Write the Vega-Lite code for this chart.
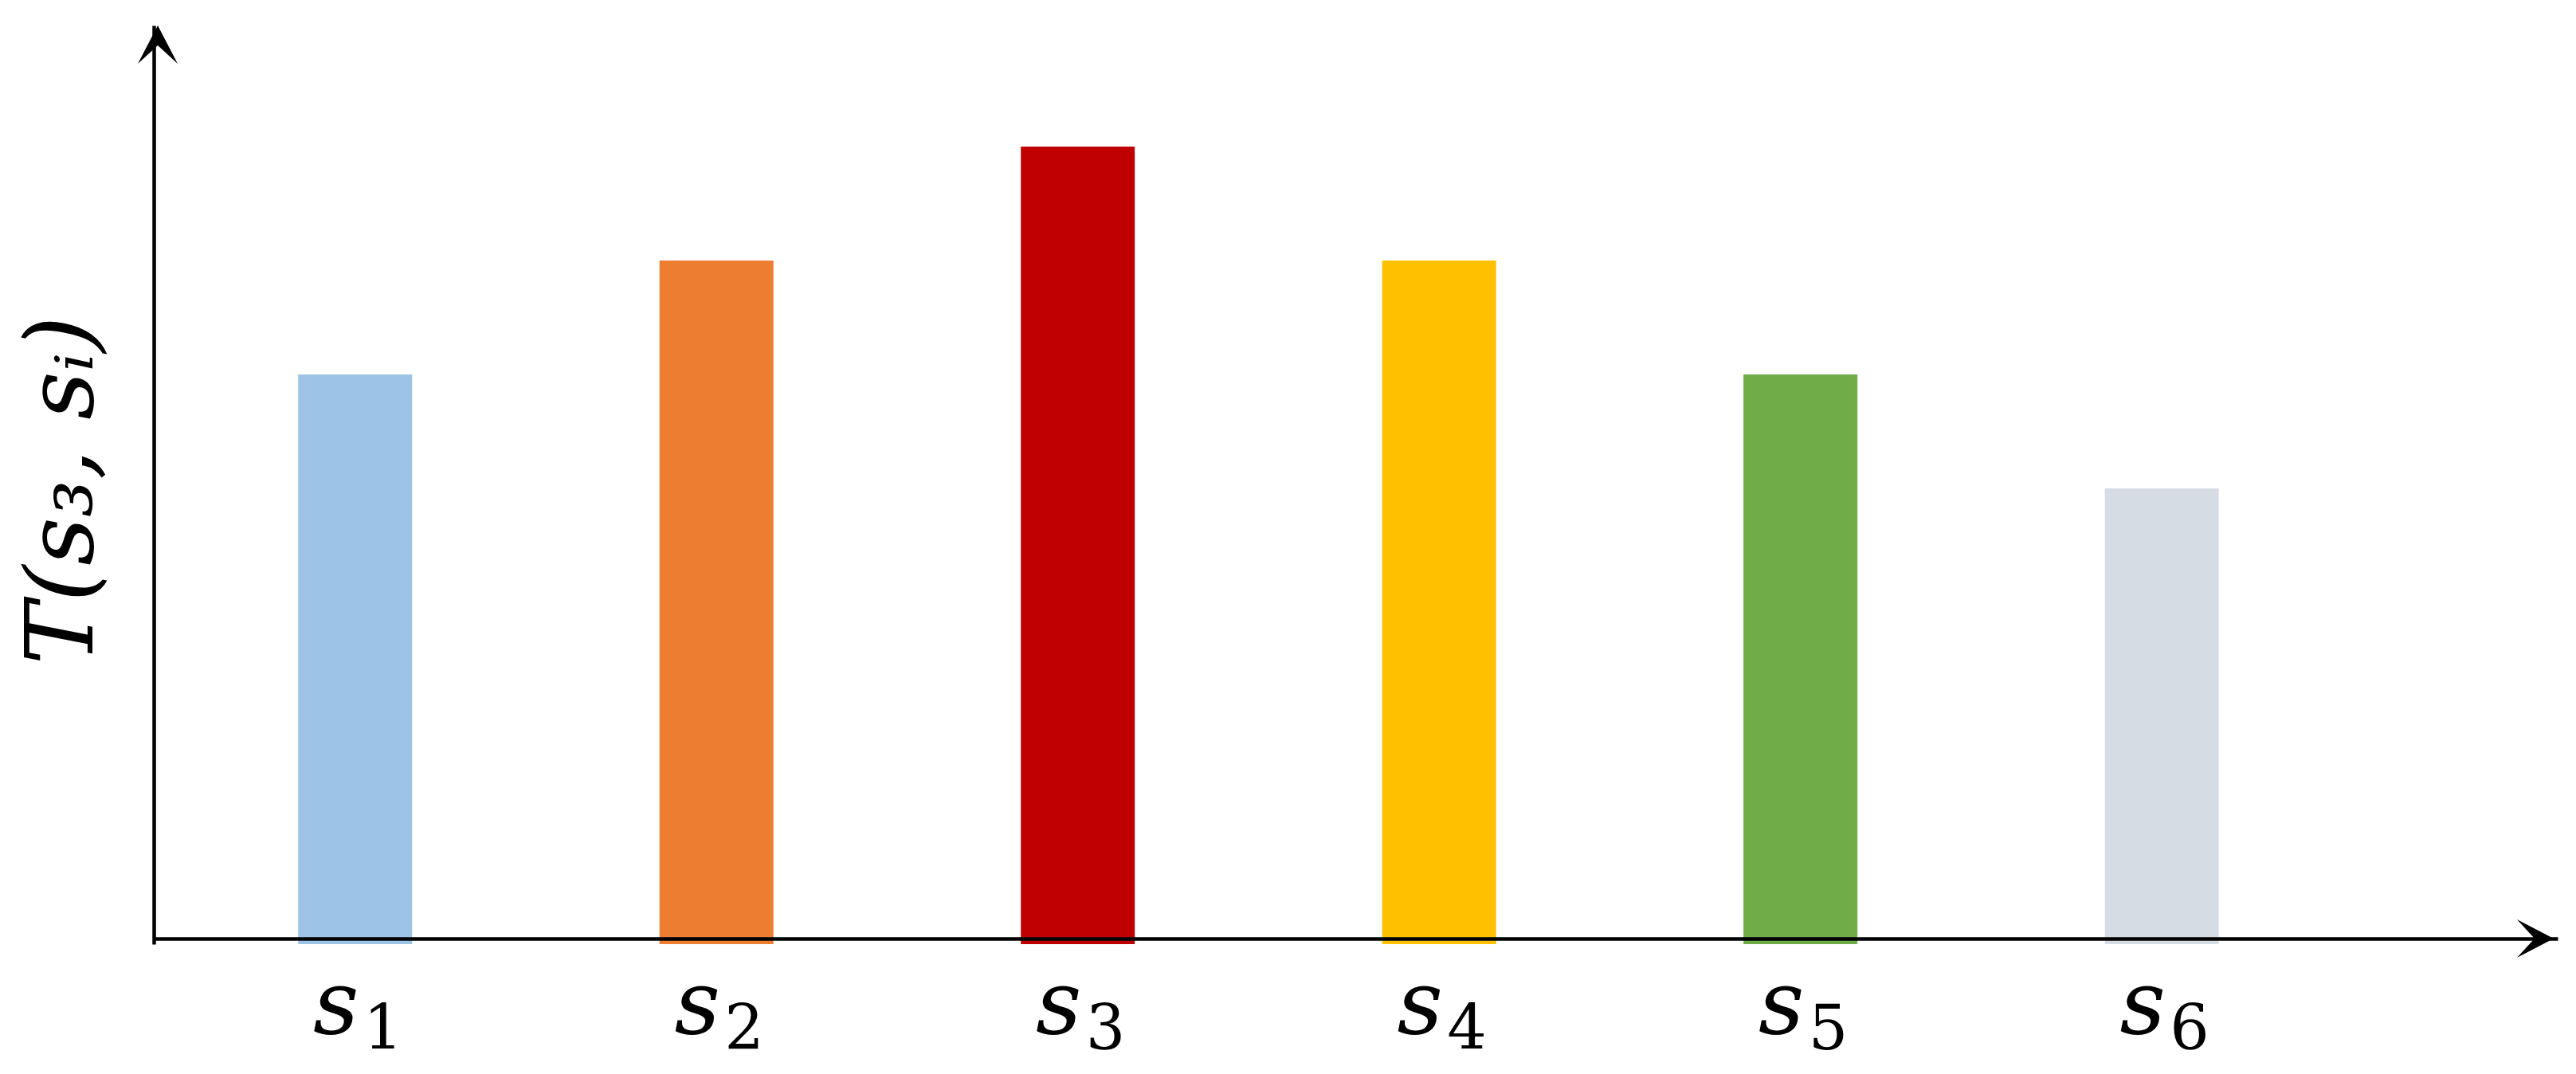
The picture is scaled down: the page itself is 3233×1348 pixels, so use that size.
{
  "$schema": "https://vega.github.io/schema/vega-lite/v6.json",
  "autosize": "none",
  "width": 3017,
  "height": 1153,
  "padding": {"left": 193, "top": 32, "right": 23, "bottom": 163},
  "background": "white",
  "config": {"view": {"stroke": null}},
  "datasets": {
    "bars": [
      {"node": "s1", "sub": "1", "pos": 1, "value": 5},
      {"node": "s2", "sub": "2", "pos": 2, "value": 6},
      {"node": "s3", "sub": "3", "pos": 3, "value": 7},
      {"node": "s4", "sub": "4", "pos": 4, "value": 6},
      {"node": "s5", "sub": "5", "pos": 5, "value": 5},
      {"node": "s6", "sub": "6", "pos": 6, "value": 4}
    ],
    "arrows": [
      {"axis": "y", "ax": 0.4538, "ay": 8.063},
      {"axis": "x", "ax": 7.0846, "ay": 0.049}
    ]
  },
  "layer": [
    {
      "data": {"name": "bars"},
      "mark": {"type": "bar", "size": 143},
      "encoding": {
        "x": {
          "field": "pos", "type": "quantitative",
          "scale": {"domain": [0.4538, 7.0846], "nice": false, "zero": false},
          "axis": {"title": null, "labels": false, "ticks": false, "grid": false, "domain": true, "domainColor": "#000000", "domainWidth": 4.5, "offset": -7, "zindex": 1}
        },
        "y": {
          "field": "value", "type": "quantitative",
          "scale": {"domain": [0, 8.063], "nice": false},
          "axis": {
            "title": "T(s₃, sᵢ)",
            "titleFont": "DejaVu Serif", "titleFontStyle": "italic", "titleFontWeight": "normal",
            "titleFontSize": 118, "titleColor": "#000000",
            "titleAngle": 270, "titleX": -78, "titleY": 583,
            "titleAlign": "center", "titleBaseline": "alphabetic",
            "labels": false, "ticks": false, "grid": false,
            "domain": true, "domainColor": "#000000", "domainWidth": 4.5, "zindex": 1
          }
        },
        "color": {
          "field": "node", "type": "nominal",
          "scale": {"domain": ["s1", "s2", "s3", "s4", "s5", "s6"], "range": ["#9DC3E6", "#ED7D31", "#C00000", "#FFC000", "#70AD47", "#D6DCE4"]},
          "legend": null
        }
      }
    },
    {
      "data": {"name": "bars"},
      "mark": {"type": "text", "font": "DejaVu Serif", "fontStyle": "italic", "fontSize": 112, "align": "center", "baseline": "alphabetic", "dx": -24, "dy": 112, "color": "#000000"},
      "encoding": {
        "x": {"field": "pos", "type": "quantitative"},
        "y": {"datum": 0},
        "text": {"value": "s"}
      }
    },
    {
      "data": {"name": "bars"},
      "mark": {"type": "text", "font": "DejaVu Serif", "fontSize": 78, "align": "center", "baseline": "alphabetic", "dx": 35, "dy": 132, "color": "#000000"},
      "encoding": {
        "x": {"field": "pos", "type": "quantitative"},
        "y": {"datum": 0},
        "text": {"field": "sub"}
      }
    },
    {
      "data": {"name": "arrows"},
      "transform": [{"filter": "datum.axis === 'y'"}],
      "mark": {"type": "point", "shape": "M0,0L1,1.92L0,1.0L-1,1.92Z", "size": 2500, "filled": true, "color": "#000000", "opacity": 1},
      "encoding": {
        "x": {"field": "ax", "type": "quantitative"},
        "y": {"field": "ay", "type": "quantitative"}
      }
    },
    {
      "data": {"name": "arrows"},
      "transform": [{"filter": "datum.axis === 'x'"}],
      "mark": {"type": "point", "shape": "M0,0L-1.92,-1L-1.0,0L-1.92,1Z", "size": 2304, "filled": true, "color": "#000000", "opacity": 1},
      "encoding": {
        "x": {"field": "ax", "type": "quantitative"},
        "y": {"field": "ay", "type": "quantitative"}
      }
    }
  ]
}
